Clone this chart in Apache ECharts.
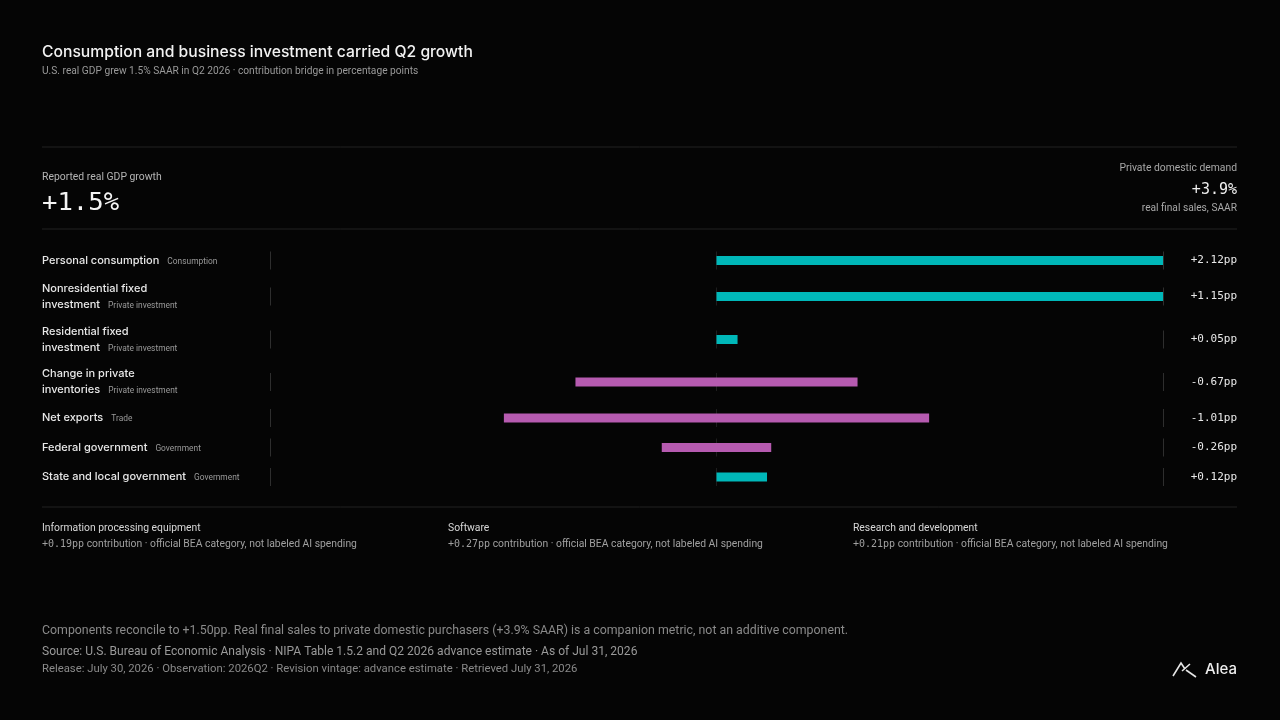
<!DOCTYPE html>
<html>
<head>
<meta charset="utf-8">
<script src="https://cdn.jsdelivr.net/npm/echarts@6/dist/echarts.min.js"></script>
<style>
  html, body { margin: 0; padding: 0; background: #050505; }
  #main { width: 1280px; height: 720px; }
</style>
</head>
<body>
<div id="main"></div>
<script>
// data
var names = [
  ['Personal consumption'],
  ['Nonresidential fixed', 'investment'],
  ['Residential fixed', 'investment'],
  ['Change in private', 'inventories'],
  ['Net exports'],
  ['Federal government'],
  ['State and local government']
];
var groups = ['Consumption', 'Private investment', 'Private investment', 'Private investment', 'Trade', 'Government', 'Government'];
var contrib = [2.12, 1.15, 0.05, -0.67, -1.01, -0.26, 0.12];
var noteTitles = ['Information processing equipment', 'Software', 'Research and development'];
var noteValues = [0.19, 0.27, 0.21];

// layout
var rowY = [260.5, 296.5, 339.5, 382, 418, 447.5, 477];
var noteX = [42, 448, 853];
var TEAL = '#00b8b9';
var PINK = '#b65bb0';
var SANS = 'Inter, "Noto Sans", sans-serif';
var BODY = 'Roboto, "Noto Sans", sans-serif';
var MONO = '"DejaVu Sans Mono", monospace';

var negAbs = contrib.filter(function (v) { return v < 0; }).map(Math.abs);
var xMax = Math.max.apply(null, negAbs) * 1.05;

function fmt(v) {
  return (v >= 0 ? '+' : '-') + Math.abs(v).toFixed(2) + 'pp';
}

var chart = echarts.init(document.getElementById('main'));

var grids = [], xAxes = [], yAxes = [], series = [];
contrib.forEach(function (v, i) {
  grids.push({ left: 270, width: 893, top: rowY[i] - 9, height: 18 });
  xAxes.push({
    gridIndex: i, type: 'value', min: -xMax, max: xMax, interval: xMax,
    axisLabel: { show: false }, axisLine: { show: false }, axisTick: { show: false },
    splitLine: { show: true, lineStyle: { width: 1, color: ['#2e2e2e', '#1e1e1e', '#2e2e2e'] } }
  });
  yAxes.push({ gridIndex: i, type: 'category', data: [names[i].join(' ')], show: false });
  var color = v >= 0 ? TEAL : PINK;
  // negative bars sit centred on zero, as in the reference
  var base = v >= 0 ? 0 : v / 2;
  var len = Math.abs(v);
  series.push({
    type: 'bar', xAxisIndex: i, yAxisIndex: i, data: [base], stack: 's' + i, stackStrategy: 'all',
    barWidth: 9, silent: true, itemStyle: { color: 'rgba(0,0,0,0)' }
  });
  series.push({
    type: 'bar', xAxisIndex: i, yAxisIndex: i, data: [len], stack: 's' + i, stackStrategy: 'all',
    barWidth: 9, silent: true, itemStyle: { color: color }
  });
});

var g = [];
function text(x, y, str, size, color, font, opts) {
  opts = opts || {};
  g.push({
    type: 'text', x: x, y: y, silent: true,
    style: {
      text: str, fill: color, fontSize: size, fontFamily: font,
      fontWeight: opts.weight || 'normal',
      textAlign: opts.align || 'left', textVerticalAlign: 'middle',
      rich: opts.rich
    }
  });
}
function rule(y) {
  g.push({ type: 'line', silent: true, shape: { x1: 42, y1: y, x2: 1237, y2: y }, style: { stroke: '#222', lineWidth: 1 } });
}

text(42, 52.5, 'Consumption and business investment carried Q2 growth', 15.7, '#f2f2f2', SANS, { weight: 500 });
text(42, 71.5, 'U.S. real GDP grew 1.5% SAAR in Q2 2026 · contribution bridge in percentage points', 10.2, '#9a9a9a', BODY);
rule(147);
text(42, 177.5, 'Reported real GDP growth', 10.4, '#b5b5b5', BODY);
text(42, 203, '+1.5%', 25.6, '#f5f5f5', MONO);
text(1237, 168.5, 'Private domestic demand', 10.35, '#a8a8a8', BODY, { align: 'right' });
text(1237, 190.5, '+3.9%', 15, '#f0f0f0', MONO, { align: 'right' });
text(1237, 208.5, 'real final sales, SAAR', 10.2, '#a8a8a8', BODY, { align: 'right' });
rule(229);

var labelRich = {
  n: { fontSize: 11, fill: '#e8e8e8', fontFamily: SANS, fontWeight: 500 },
  t: { fontSize: 8.4, fill: '#9a9a9a', fontFamily: BODY, padding: [2, 0, 0, 8] }
};
names.forEach(function (lines, i) {
  var y = rowY[i];
  if (lines.length === 2) {
    text(42, y - 8, lines[0], 11, '#e8e8e8', SANS, { weight: 500 });
    text(42, y + 8, '{n|' + lines[1] + '}{t|' + groups[i] + '}', 11, '#e8e8e8', SANS, { rich: labelRich });
  } else {
    text(42, y, '{n|' + lines[0] + '}{t|' + groups[i] + '}', 11, '#e8e8e8', SANS, { rich: labelRich });
  }
  text(1237, y, fmt(contrib[i]), 11, '#e8e8e8', MONO, { align: 'right' });
});
rule(507);

noteTitles.forEach(function (t, i) {
  text(noteX[i], 528.5, t, 10.35, '#d8d8d8', BODY);
  text(noteX[i], 544.5, '{m|' + fmt(noteValues[i]) + '}{b| contribution · official BEA category, not labeled AI spending}', 10, '#a0a0a0', BODY, {
    rich: {
      m: { fontFamily: MONO, fontSize: 10, fill: '#a0a0a0' },
      b: { fontFamily: BODY, fontSize: 10.35, fill: '#a0a0a0' }
    }
  });
});

text(42, 630.5, 'Components reconcile to +1.50pp. Real final sales to private domestic purchasers (+3.9% SAAR) is a companion metric, not an additive component.', 12.35, '#8a8a8a', BODY);
text(42, 651.5, 'Source: U.S. Bureau of Economic Analysis · NIPA Table 1.5.2 and Q2 2026 advance estimate · As of Jul 31, 2026', 12.05, '#9a9a9a', BODY);
text(42, 669.5, 'Release: July 30, 2026 · Observation: 2026Q2 · Revision vintage: advance estimate · Retrieved July 31, 2026', 11.3, '#8a8a8a', BODY);

// logo
g.push({ type: 'polyline', silent: true, shape: { points: [[1173, 676], [1181, 663], [1185, 669]] }, style: { stroke: '#e6e6e6', lineWidth: 1.6, fill: null } });
g.push({ type: 'polyline', silent: true, shape: { points: [[1182, 671], [1190, 664]] }, style: { stroke: '#e6e6e6', lineWidth: 1.6, fill: null } });
g.push({ type: 'polyline', silent: true, shape: { points: [[1186, 670], [1196, 677]] }, style: { stroke: '#e6e6e6', lineWidth: 1.6, fill: null } });
text(1237, 669.5, 'Alea', 15, '#eeeeee', SANS, { align: 'right', weight: 500 });

chart.setOption({
  backgroundColor: '#050505',
  animation: false,
  grid: grids,
  xAxis: xAxes,
  yAxis: yAxes,
  series: series,
  graphic: g
});
</script>
</body>
</html>
